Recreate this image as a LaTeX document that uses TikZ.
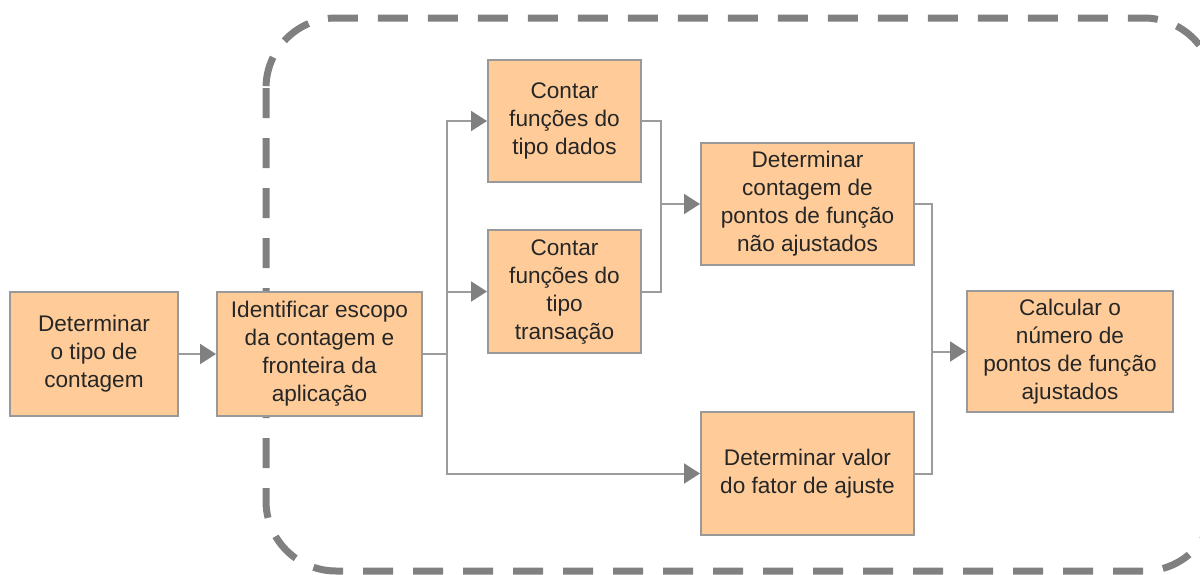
\documentclass[tikz,border=0pt]{standalone}
\usepackage{fontspec}
\setmainfont{Liberation Sans}
\definecolor{boxfill}{HTML}{FFCC99}
\definecolor{boxline}{HTML}{999999}
\definecolor{linkgray}{HTML}{9C9C9C}
\definecolor{tipgray}{HTML}{808080}
\definecolor{framegray}{HTML}{808080}
\usetikzlibrary{positioning, arrows.meta}

\begin{document}
\begin{tikzpicture}[x=0.5pt, y=-0.5pt,
  box/.style={draw=boxline, line width=1pt, fill=boxfill, align=center,
              inner sep=0pt, text=black!85,
              font=\fontsize{11.3}{14}\selectfont},
  link/.style={draw=linkgray, line width=1pt},
  arr/.style={link, -{Triangle[length=8pt, width=10pt, color=tipgray]}},
  frame/.style={draw=framegray, line width=3.5pt, dash pattern=on 15pt off 10pt,
                rounded corners=35pt}]
  \useasboundingbox (0,0) rectangle (1200,574);
  % scope frame
  \draw[frame] (266,18) rectangle (1214,571);
  % steps
  \node[box, minimum width=84pt, minimum height=62pt] (tipo) at (94,354)
    {Determinar\\o tipo de\\contagem};
  \node[box, minimum width=102.5pt, minimum height=62pt] (escopo) at (319.5,354)
    {Identificar escopo\\da contagem e\\fronteira da\\aplicação};
  \node[box, minimum width=76.5pt, minimum height=61pt] (dados) at (564.5,121)
    {Contar\\funções do\\tipo dados};
  \node[box, minimum width=76.5pt, minimum height=61.5pt] (trans) at (564.5,291.5)
    {Contar\\funções do\\tipo\\transação};
  \node[box, minimum width=106.5pt, minimum height=61pt] (naoaj) at (807.5,204)
    {Determinar\\contagem de\\pontos de função\\não ajustados};
  \node[box, minimum width=106.5pt, minimum height=61.5pt] (fator) at (807.5,473.5)
    {Determinar valor\\do fator de ajuste};
  \node[box, minimum width=103pt, minimum height=60.5pt] (ajust) at (1070,351.5)
    {Calcular o\\número de\\pontos de função\\ajustados};
  % junctions
  \coordinate (j1) at (447,354);
  \coordinate (j2) at (661,204);
  \coordinate (j3) at (932,351.5);
  \draw[arr] (tipo) -- (escopo);
  \draw[link] (escopo.east) -- (j1);
  \draw[arr] (j1) |- (dados.west);
  \draw[arr] (j1) |- (trans.west);
  \draw[arr] (j1) |- (fator.west);
  \draw[link] (dados.east) -| (j2);
  \draw[link] (trans.east) -| (j2);
  \draw[arr] (j2) -- (naoaj.west);
  \draw[link] (naoaj.east) -| (j3);
  \draw[link] (fator.east) -| (j3);
  \draw[arr] (j3) -- (ajust.west);
\end{tikzpicture}
\end{document}
